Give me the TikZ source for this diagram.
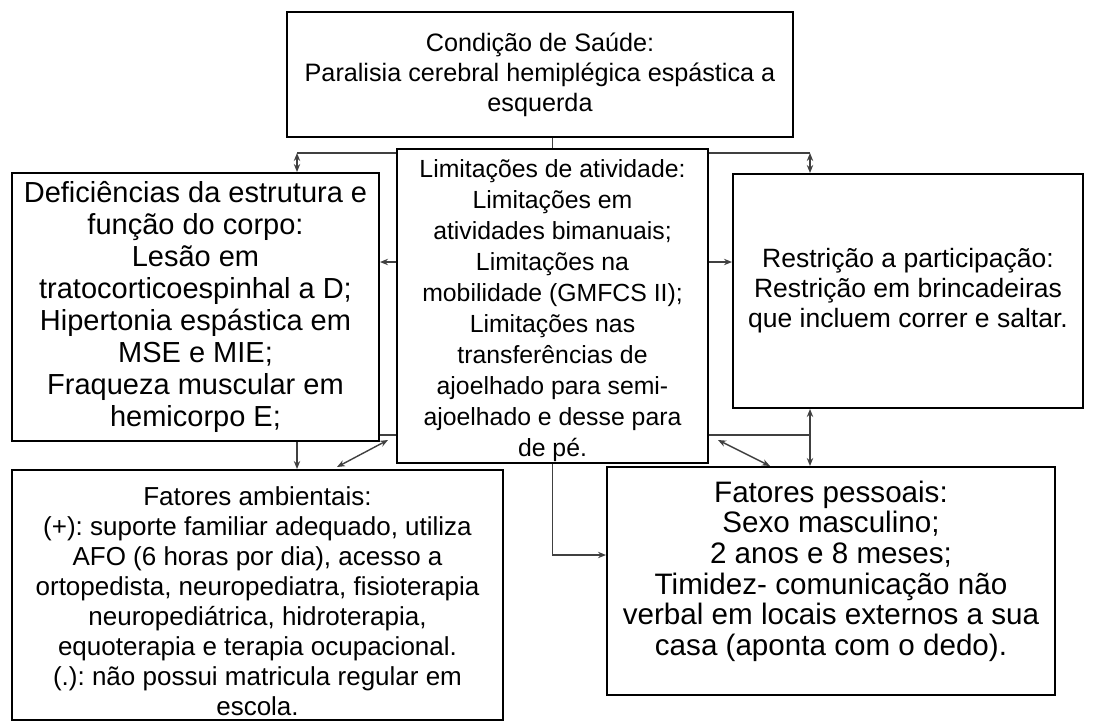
\documentclass[tikz,border=0pt]{standalone}
\usepackage{fontspec}
\setmainfont{Liberation Sans}
\usetikzlibrary{arrows.meta}
\frenchspacing

\begin{document}
\begin{tikzpicture}[x=0.5pt, y=-0.5pt,
  caixa/.style={draw, line width=1pt, fill=white, align=center, inner sep=0pt},
  linha/.style={draw=black!75, line width=0.7pt},
  seta/.style={linha, -{Stealth[length=4pt, width=3.2pt]}},
  dupla/.style={linha, {Stealth[length=4pt, width=3.2pt]}-{Stealth[length=4pt, width=3.2pt]}}]
  \useasboundingbox (0,0) rectangle (1098,724);
  % Boxes
  \node[caixa, minimum width=253pt, minimum height=62.5pt,
    font=\fontsize{12.6}{15}\selectfont] (saude) at (540,74.5)
    {Condição de Saúde:\\Paralisia cerebral hemiplégica espástica a\\esquerda};
  \node[caixa, minimum width=183.5pt, minimum height=134pt,
    font=\fontsize{14.5}{16}\selectfont] (estrutura) at (195.5,307)
    {Deficiências da estrutura e\\função do corpo:\\Lesão em\\tratocorticoespinhal a D;\\
     Hipertonia espástica em\\MSE e MIE;\\Fraqueza muscular em\\hemicorpo E;};
  \node[caixa, minimum width=155.5pt, minimum height=157pt,
    font=\fontsize{12.4}{15.5}\selectfont] (atividade) at (552.5,306)
    {\rule{0pt}{14pt}Limitações de atividade:\\Limitações em\\atividades bimanuais;\\Limitações na\\
     mobilidade (GMFCS II);\\Limitações nas\\transferências de\\ajoelhado para semi-\\
     ajoelhado e desse para\\de pé.};
  \node[caixa, minimum width=175pt, minimum height=117pt,
    font=\fontsize{13.25}{15}\selectfont] (participacao) at (908,291)
    {Restrição a participação:\\Restrição em brincadeiras\\que incluem correr e saltar.};
  \node[caixa, minimum width=245.5pt, minimum height=125pt,
    font=\fontsize{13}{15}\selectfont] (ambientais) at (257.5,595)
    {\rule{0pt}{15.5pt}Fatores ambientais:\\(+): suporte familiar adequado, utiliza\\
     AFO (6 horas por dia), acesso a\\ortopedista, neuropediatra, fisioterapia\\
     neuropediátrica, hidroterapia,\\equoterapia e terapia ocupacional.\\
     (.): não possui matricula regular em\\escola.};
  \node[caixa, minimum width=224pt, minimum height=114pt,
    font=\fontsize{14.8}{15.3}\selectfont] (pessoais) at (831,581)
    {Fatores pessoais:\\Sexo masculino;\\2 anos e 8 meses;\\Timidez- comunicação não\\
     verbal em locais externos a sua\\casa (aponta com o dedo).\rule[-13pt]{0pt}{13pt}};
  % Columns and junctions of the connectors
  \coordinate (ramo) at (552.5,153);
  \coordinate (colE) at (297,0);
  \coordinate (colD) at (810,0);
  \coordinate (juncE) at (388,440);
  \coordinate (juncD) at (718,440);
  \coordinate (pontaE) at (337,467);
  \coordinate (pontaD) at (770,466);
  % From the health condition
  \draw[linha] (saude.south -| atividade.north) -- (atividade.north);
  \draw[linha] (atividade.west |- ramo) -- (colE |- ramo);
  \draw[dupla] (colE |- ramo) -- (colE |- estrutura.north);
  \draw[linha] (atividade.east |- ramo) -- (colD |- ramo);
  \draw[dupla] (colD |- ramo) -- (colD |- participacao.north);
  % Middle row
  \draw[seta] (atividade.west |- 0,262) -- (estrutura.east |- 0,262);
  \draw[seta] (atividade.east |- 0,262) -- (participacao.west |- 0,262);
  % Down to the context factors
  \draw[linha] (estrutura.east |- 0,435) -- (atividade.west |- 0,435);
  \draw[seta] (colE |- estrutura.south) -- (colE |- ambientais.north);
  \draw[dupla] (juncE) -- (pontaE);
  \draw[linha] (atividade.east |- 0,435) -- (colD |- 0,435);
  \draw[dupla] (colD |- participacao.south) -- (colD |- pessoais.north);
  \draw[dupla] (juncD) -- (pontaD);
  \draw[seta] (atividade.south) |- (pessoais.west |- 0,555);
\end{tikzpicture}
\end{document}
